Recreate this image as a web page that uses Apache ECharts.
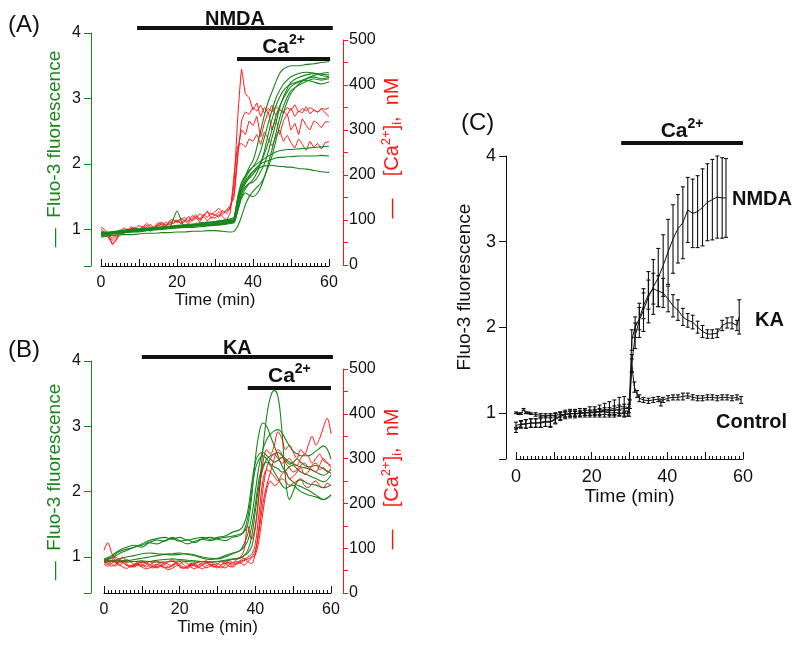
<!DOCTYPE html>
<html><head><meta charset="utf-8">
<script src="https://cdn.jsdelivr.net/npm/echarts@6/dist/echarts.min.js"></script>
<style>html,body{margin:0;padding:0;background:#fff}#c{width:800px;height:646px}</style>
</head><body><div id="c"></div>
<script>
// ---------------- DATA ----------------
// Panel A (NMDA): green Fluo-3 traces on a shared time grid
const tA_green = [0,2,4,6,8,10,12,14,16,18,20,22,24,26,28,30,32,34,35,36,37,38,39,40,41,42,43,44,45,46,47,48,49,50,52,54,56,58,60];
const A_g1 = [0.95,0.93,0.96,0.97,0.97,0.99,1.00,1.01,1.02,1.03,1.05,1.05,1.06,1.08,1.09,1.10,1.12,1.13, 1.16,1.50,1.72,1.82,1.95,2.05,2.25,2.50,2.75,2.95,3.10,3.25,3.38,3.45,3.48,3.50,3.50,3.52,3.53,3.55,3.56];
const A_g2 = [0.92,0.94,0.95,0.96,0.98,0.98,1.00,1.02,1.01,1.03,1.04,1.06,1.07,1.08,1.10,1.12,1.13,1.15, 1.18,1.45,1.65,1.78,1.88,1.96,2.05,2.20,2.40,2.62,2.82,3.00,3.12,3.22,3.28,3.33,3.38,3.40,3.39,3.37,3.36];
const A_g3 = [0.90,0.92,0.94,0.95,0.96,0.97,0.99,1.00,1.01,1.02,1.28,1.04,1.05,1.06,1.07,1.08,1.10,1.12, 1.12,1.30,1.50,1.62,1.70,1.76,1.86,2.00,2.20,2.45,2.68,2.88,3.02,3.12,3.18,3.22,3.26,3.30,3.33,3.30,3.32];
const A_g4 = [0.93,0.95,0.94,0.96,0.97,0.98,0.99,1.00,1.02,1.02,1.03,1.04,1.05,1.06,1.06,1.07,1.08,1.10, 1.10,1.28,1.48,1.56,1.52,1.50,1.54,1.64,1.80,2.00,2.22,2.46,2.70,2.88,3.02,3.12,3.20,3.26,3.30,3.28,3.30];
const A_g5 = [0.94,0.95,0.96,0.97,0.98,1.00,1.01,1.02,1.02,1.04,1.05,1.06,1.07,1.08,1.10,1.11,1.12,1.14, 1.14,1.40,1.62,1.72,1.78,1.84,1.92,2.02,2.15,2.32,2.52,2.72,2.88,3.00,3.10,3.18,3.25,3.28,3.25,3.22,3.25];
const A_g6 = [0.96,0.95,0.97,0.99,1.00,1.01,1.02,1.03,1.04,1.05,1.06,1.07,1.08,1.10,1.11,1.12,1.14,1.16, 1.18,1.48,1.70,1.82,1.90,1.95,2.00,2.04,2.08,2.12,2.15,2.18,2.20,2.21,2.22,2.22,2.23,2.24,2.25,2.26,2.27];
const A_g7 = [0.92,0.94,0.95,0.95,0.97,0.98,0.99,1.00,1.01,1.02,1.03,1.04,1.05,1.06,1.07,1.08,1.09,1.11, 1.12,1.38,1.58,1.70,1.80,1.88,1.95,2.00,2.03,2.05,2.07,2.09,2.10,2.10,2.11,2.11,2.12,2.12,2.12,2.13,2.12];
const A_g8 = [0.95,0.96,0.97,0.98,0.99,1.00,1.00,1.01,1.02,1.03,1.04,1.05,1.06,1.07,1.08,1.09,1.10,1.12, 1.14,1.42,1.62,1.74,1.82,1.88,1.92,1.95,1.97,1.97,1.98,1.97,1.96,1.96,1.95,1.95,1.93,1.92,1.90,1.88,1.87];
const A_g9 = [0.88,0.90,0.91,0.92,0.92,0.93,0.94,0.94,0.95,0.95,0.96,0.96,0.97,0.97,0.98,0.98,0.97,0.96, 0.97,1.05,1.20,1.38,1.50,1.58,1.64,1.70,1.80,1.95,2.12,2.35,2.58,2.78,2.95,3.08,3.22,3.30,3.35,3.38,3.40];
const A_g10 = [0.91,0.93,0.93,0.95,0.96,0.96,0.98,0.99,1.00,1.01,1.02,1.03,1.03,1.04,1.05,1.06,1.07,1.09, 1.10,1.32,1.55,1.65,1.70,1.72,1.78,1.88,2.00,2.18,2.40,2.62,2.85,3.02,3.15,3.25,3.32,3.36,3.38,3.35,3.33];

// Panel A: red [Ca2+]i traces (nM), one value per minute 0..60
const tA_red = [0,1,2,3,4,5,6,7,8,9,10,11,12,13,14,15,16,17,18,19,20,21,22,23,24,25,26,27,28,29,30,31,32,33,34,35,36,37,38,39,40,41,42,43,44,45,46,47,48,49,50,51,52,53,54,55,56,57,58,59,60];
const A_r1 = [80,72,60,48,58,75,82,78,85,80, 88,84,92,86,78,90,95,88,92,100, 96,104,98,92,100,108,102,112,106,115, 110,118,112,120,125,180,330,435,380,372, 345,360,330,350,338,355,332,345,340,335, 348,330,342,338,352,336,344,340,346,338,330];
const A_r2 = [85,78,70,45,55,68,74,80,76,82, 78,86,80,75,84,90,85,96,90,94, 100,92,96,108,98,104,96,110,118,104, 112,106,122,114,130,160,250,300,290,320, 310,330,285,315,340,300,325,290,320,335, 300,315,290,325,310,300,320,315,305,318,318];
const A_r3 = [75,70,62,55,64,72,70,76,82,78, 80,76,84,90,82,86,92,88,96,92, 98,94,100,96,104,112,100,108,98,106, 104,112,108,100,116,200,265,270,262,280, 275,290,268,295,280,265,285,300,275,288, 272,260,280,268,255,275,262,270,258,272,274];
const A_r4 = [70,74,66,60,70,78,74,72,80,84, 76,82,88,80,86,94,90,84,98,102, 94,100,106,98,110,104,114,108,120,112, 118,126,116,122,132,150,240,320,340,335, 350,342,355,338,348,340,352,345,338,350, 344,356,340,348,342,350,345,340,348,346,349];

// Panel B (KA): green traces
const tB_green = [0,2,4,6,8,10,12,14,16,18,20,22,24,26,28,30,32,34,36,37,38,39,40,41,42,43,44,45,46,47,48,49,50,51,52,54,56,58,60];
const B_g1 = [0.93,0.95,0.94,0.92,0.93,0.94,0.93,0.92,0.92,0.93,0.94,0.93,0.92,0.93,0.92,0.93,0.95,0.97, 0.99,1.02,1.06,1.15,1.45,2.00,2.65,3.15,3.45,3.55,3.45,2.95,2.20,1.88,2.00,2.15,2.18,2.12,2.10,2.06,2.10];
const B_g2 = [0.96,0.98,1.05,1.10,1.15,1.18,1.22,1.20,1.25,1.28,1.24,1.26,1.22,1.27,1.25,1.28,1.30,1.32, 1.35,1.38,1.50,1.90,2.50,2.90,3.05,3.00,2.85,2.70,2.55,2.40,2.30,2.20,2.15,2.10,2.08,2.02,1.95,1.88,1.95];
const B_g3 = [0.92,0.94,0.97,1.00,1.02,1.05,1.06,1.05,1.04,1.03,1.04,1.05,1.03,1.00,0.98,0.97,1.00,1.05, 1.10,1.20,1.35,1.60,2.00,2.40,2.65,2.80,2.88,2.93,2.95,2.90,2.80,2.70,2.62,2.58,2.55,2.55,2.62,2.70,2.50];
const B_g4 = [0.95,1.00,1.08,1.12,1.15,1.20,1.25,1.28,1.30,1.27,1.30,1.26,1.28,1.30,1.27,1.30,1.32,1.38, 1.42,1.50,1.70,2.10,2.45,2.58,2.60,2.55,2.50,2.45,2.48,2.52,2.50,2.45,2.42,2.40,2.38,2.35,2.30,2.25,2.35];
const B_g5 = [0.97,1.02,1.10,1.15,1.18,1.15,1.22,1.26,1.24,1.30,1.25,1.20,1.24,1.28,1.30,1.27,1.25,1.30, 1.33,1.40,1.60,2.00,2.35,2.50,2.55,2.50,2.42,2.38,2.35,2.30,2.32,2.38,2.40,2.35,2.30,2.25,2.20,2.15,2.25];
const B_g6 = [0.95,0.93,0.92,0.94,0.96,0.98,1.00,1.02,1.04,1.05,1.06,1.04,1.02,0.98,0.96,0.98,1.02,1.06, 1.10,1.15,1.25,1.45,1.80,2.20,2.40,2.45,2.40,2.30,2.20,2.10,2.05,2.08,2.10,2.05,2.00,1.95,1.92,1.88,1.95];
const B_g7 = [0.92,0.93,0.95,0.94,0.93,0.92,0.93,0.95,0.96,0.97,0.96,0.95,0.94,0.93,0.92,0.93,0.94,0.96, 0.98,1.02,1.10,1.30,1.70,2.10,2.35,2.50,2.55,2.58,2.60,2.55,2.48,2.42,2.45,2.50,2.45,2.38,2.40,2.35,2.28];

// Panel B: red traces (nM)
const tB_red = tA_red;
const B_r1 = [95,112,90,70,62,68,75,70,64,66, 60,62,70,65,58,62,68,64,60,66, 70,64,58,62,66,60,64,68,62,58, 64,70,66,72,68,74,80,95,150,120, 150,220,290,320,310,330,360,345,320,330, 315,300,320,310,330,350,330,345,370,390,355];
const B_r2 = [70,75,65,60,72,80,66,60,62,70, 66,58,62,68,72,64,58,56,62,68, 64,70,66,58,54,62,68,72,64,60, 58,62,70,66,60,68,72,78,70,66, 90,150,230,280,300,310,300,290,295,300, 290,285,300,310,305,290,300,310,295,290,285];
const B_r3 = [68,64,72,80,74,68,62,58,60,64, 62,68,64,60,56,60,64,70,74,68, 60,56,58,64,60,56,62,66,70,64, 66,60,56,62,68,64,70,74,80,86, 110,180,250,275,270,260,250,265,270,255, 260,270,280,265,270,285,290,275,280,270,275];
const B_r4 = [64,60,66,70,64,58,55,60,64,62, 58,54,56,60,64,60,56,52,55,60, 62,58,55,60,64,68,62,56,60,64, 60,56,62,68,64,70,66,72,76,80, 95,140,200,240,270,300,320,310,290,280, 270,275,285,290,280,275,270,285,300,290,280];
const B_r5 = [72,66,60,64,70,68,62,60,58,64, 70,66,60,56,62,68,64,58,62,66, 58,55,60,66,62,58,54,60,64,60, 56,62,66,60,58,64,68,62,70,78, 85,120,180,230,250,240,245,255,250,240, 245,250,255,240,235,245,250,240,235,245,240];

// Panel C: mean +/- error
const tNmda = [0,1.3,2.6,3.9,5.2,6.5,7.8,9.1,10.4,11.7,13,14.3,15.6,16.9,18.2,19.5,20.8,22.1,23.4,24.7,26,27.3,28.6,29.9, 30.6,31.5,32.6,33.7,35.0,36.3,37.6,38.9,40.2,41.5,42.8,44.1,45.4,46.7,48.0,49.3,50.6,51.9,53.2,54.5,55.5];
const nmdaMean = [0.80,0.86,0.87,0.88,0.88,0.89,0.90,0.90,0.93,0.96,0.98,0.99,0.99,1.00,1.00,1.01,1.01,1.02,1.03,1.04,1.05,1.07,1.07,1.06, 1.58,1.90,2.08,2.20,2.35,2.47,2.58,2.72,2.88,3.03,3.15,3.22,3.37,3.33,3.35,3.40,3.46,3.49,3.52,3.51,3.51];
const nmdaErr = [0.03,0.04,0.05,0.05,0.05,0.06,0.06,0.07,0.06,0.05,0.05,0.05,0.05,0.05,0.05,0.06,0.06,0.07,0.08,0.09,0.10,0.11,0.12,0.10, 0.10,0.15,0.20,0.25,0.30,0.32,0.34,0.36,0.38,0.40,0.40,0.42,0.38,0.40,0.42,0.45,0.45,0.47,0.48,0.47,0.46];
const tKa = [0,1.3,2.6,3.9,5.2,6.5,7.8,9.1,10.4,11.7,13,14.3,15.6,16.9,18.2,19.5,20.8,22.1,23.4,24.7,26,27.3,28.6,29.9, 30.6,31.5,32.6,33.7,35.0,36.3,37.6,38.9,40.2,41.5,42.8,44.1,45.4,46.7,48.0,49.3,50.6,51.9,53.2,54.5,55.8,57.1,58.4,59.0];
const kaMean = [0.85,0.87,0.87,0.88,0.88,0.88,0.89,0.89,0.92,0.96,0.98,0.99,0.99,0.99,1.00,1.00,1.01,1.01,1.02,1.02,1.03,1.04,1.05,1.05, 1.85,2.00,2.10,2.25,2.38,2.45,2.42,2.40,2.33,2.25,2.20,2.12,2.08,2.06,2.00,1.95,1.92,1.92,1.93,2.02,2.05,2.05,2.02,2.12];
const kaErr = [0.04,0.04,0.05,0.05,0.05,0.05,0.05,0.05,0.04,0.04,0.03,0.03,0.03,0.03,0.03,0.03,0.03,0.04,0.04,0.04,0.05,0.05,0.05,0.05, 0.12,0.12,0.13,0.15,0.17,0.18,0.18,0.17,0.15,0.13,0.12,0.10,0.08,0.08,0.07,0.07,0.05,0.05,0.05,0.06,0.06,0.07,0.06,0.20];
const tCtrl = [0,0.7,1.3,2,2.6,3.2,3.9,5.2,6.5,7.8, 9.1,10.4,11.7,13,14.3,15.6,16.9,18.2,19.5,20.8, 22.1,23.4,24.7,26,27.3,28.6,29.5,30.1,30.6,31.3, 32,32.6,33.7,35,36.3,37.6,38.3,38.9,40.2,41.5, 42.8,44.1,45.4,46.7,48,49.3,50.6,51.9,53.2,54.5, 55.8,57.1,58.4,59.5];
const ctrlMean = [1.00,0.99,0.99,1.04,1.00,1.00,0.99,0.98,0.97,0.97, 0.97,0.97,0.98,0.98,0.99,0.99,0.99,1.00,1.00,1.00, 1.01,1.01,1.00,1.00,1.00,0.99,0.99,1.10,1.55,1.30, 1.22,1.17,1.15,1.14,1.15,1.16,1.12,1.15,1.17,1.18, 1.18,1.19,1.20,1.18,1.17,1.17,1.18,1.18,1.17,1.18, 1.18,1.17,1.18,1.15];
const ctrlErr = [0.01,0.01,0.01,0.01,0.01,0.01,0.01,0.02,0.02,0.02, 0.02,0.03,0.03,0.03,0.03,0.03,0.03,0.03,0.03,0.03, 0.03,0.03,0.03,0.03,0.03,0.03,0.03,0.05,0.08,0.06, 0.04,0.04,0.03,0.03,0.03,0.03,0.04,0.03,0.03,0.03, 0.03,0.04,0.03,0.03,0.03,0.03,0.03,0.03,0.03,0.03, 0.03,0.03,0.03,0.04];

// Treatment bars (time ranges, min)
const nmdaBarA = [9.5, 61];
const caBarA = [35.8, 60.3];
const kaBarB = [10, 60.5];
const caBarB = [38, 60];
const caBarC = [27.8, 60];

// Tick values
const xTickLabels = [0, 20, 40, 60];
const fluoTicks = [1, 2, 3, 4];
const caTicks = [0, 100, 200, 300, 400, 500];

// ---------------- STYLE / LAYOUT ----------------
const FONT = '"Liberation Sans", Arial, Helvetica, sans-serif';
const GREEN = '#17861a';
const RED = '#ff1414';
const BLACK = '#111';

const chart = echarts.init(document.getElementById('c'), null, {renderer: 'canvas'});
const zip = (t, v) => t.map((x, i) => [x, v[i]]);

function timeAxis(grid, show, fs, nameGap) {
  return {
    type: 'value', gridIndex: grid, min: 0, max: 60, interval: 10, show: show,
    axisLine: {show: true, onZero: false, lineStyle: {color: BLACK, width: 1}},
    axisTick: {show: true, inside: true, length: 7, lineStyle: {color: BLACK, width: 1}},
    minorTick: {show: true, splitNumber: 10, length: 3, lineStyle: {color: BLACK, width: 1}},
    splitLine: {show: false}, minorSplitLine: {show: false},
    axisLabel: {formatter: v => xTickLabels.indexOf(v) >= 0 ? String(v) : '', margin: 9,
      fontSize: fs, color: BLACK, fontFamily: FONT},
    name: show ? 'Time (min)' : '', nameLocation: 'middle', nameGap: nameGap,
    nameTextStyle: {fontSize: fs + 1, color: BLACK, fontFamily: FONT}
  };
}
function fluoAxis(grid, min, color, fs, offset) {
  return {
    type: 'value', gridIndex: grid, position: 'left', offset: offset, min: min, max: 4,
    axisLine: {show: true, onZero: false, lineStyle: {color: color, width: 1}},
    axisTick: {show: true, length: 7, customValues: [min].concat(fluoTicks), lineStyle: {color: color}},
    axisLabel: {customValues: fluoTicks, margin: 10, fontSize: fs, color: BLACK, fontFamily: FONT},
    splitLine: {show: false}
  };
}
function caAxis(grid, offset) {
  return {
    type: 'value', gridIndex: grid, position: 'right', offset: offset, min: 0, max: 500, interval: 100,
    axisLine: {show: true, onZero: false, lineStyle: {color: RED, width: 1}},
    axisTick: {show: true, length: 5, lineStyle: {color: RED}},
    minorTick: {show: true, splitNumber: 2, length: 5, lineStyle: {color: RED}},
    axisLabel: {customValues: caTicks, margin: 6, fontSize: 16, color: BLACK, fontFamily: FONT},
    splitLine: {show: false}, minorSplitLine: {show: false}
  };
}
function lineS(xi, yi, t, v, color, smooth, w) {
  return {type: 'line', xAxisIndex: xi, yAxisIndex: yi, data: zip(t, v), showSymbol: false, symbol: 'none',
    smooth: smooth, lineStyle: {color: color, width: w || 1.1}, silent: true, animation: false};
}
function errS(t, m, e) {
  return {type: 'custom', xAxisIndex: 4, yAxisIndex: 4, silent: true, animation: false,
    data: t.map((x, i) => [x, m[i] - e[i], m[i] + e[i]]),
    encode: {x: 0, y: [1, 2]},
    renderItem: (params, api) => {
      const x = api.value(0);
      const lo = api.coord([x, api.value(1)]);
      const hi = api.coord([x, api.value(2)]);
      const w = 2;
      const st = {stroke: BLACK, lineWidth: 1.1};
      return {type: 'group', children: [
        {type: 'line', shape: {x1: lo[0], y1: lo[1], x2: hi[0], y2: hi[1]}, style: st},
        {type: 'line', shape: {x1: lo[0] - w, y1: lo[1], x2: lo[0] + w, y2: lo[1]}, style: st},
        {type: 'line', shape: {x1: hi[0] - w, y1: hi[1], x2: hi[0] + w, y2: hi[1]}, style: st}
      ]};
    }};
}

const series = [];
// Panel A: red under green
[A_r1, A_r2, A_r3, A_r4].forEach(v => series.push(lineS(1, 1, tA_red, v, RED, 0.1, 1)));
[A_g1, A_g2, A_g3, A_g4, A_g5, A_g6, A_g7, A_g8, A_g9, A_g10].forEach(v => series.push(lineS(0, 0, tA_green, v, GREEN, 0.2, 1.1)));
// Panel B
[B_g1, B_g2, B_g3, B_g4, B_g5, B_g6, B_g7].forEach(v => series.push(lineS(2, 2, tB_green, v, GREEN, 0.4, 1.1)));
[B_r1, B_r2, B_r3, B_r4, B_r5].forEach(v => series.push(lineS(3, 3, tB_red, v, RED, 0.35, 1)));
// Panel C
series.push(errS(tNmda, nmdaMean, nmdaErr));
series.push(errS(tKa, kaMean, kaErr));
series.push(errS(tCtrl, ctrlMean, ctrlErr));
series.push(lineS(4, 4, tNmda, nmdaMean, BLACK, false, 1));
series.push(lineS(4, 4, tKa, kaMean, BLACK, false, 1));
series.push(lineS(4, 4, tCtrl, ctrlMean, BLACK, false, 1));

const option = {
  animation: false,
  backgroundColor: '#fff',
  textStyle: {fontFamily: FONT},
  grid: [
    {left: 101, top: 33, width: 228, height: 233},
    {left: 101, top: 40, width: 228, height: 225},
    {left: 104, top: 361, width: 227, height: 232},
    {left: 104, top: 369, width: 227, height: 224},
    {left: 516, top: 156, width: 227, height: 303}
  ],
  xAxis: [timeAxis(0, true, 16, 24), timeAxis(1, false, 16, 24), timeAxis(2, true, 16, 24), timeAxis(3, false, 16, 24), timeAxis(4, true, 18, 28)],
  yAxis: [fluoAxis(0, 0.44, GREEN, 16, 10), caAxis(1, 14), fluoAxis(2, 0.448, GREEN, 16, 13), caAxis(3, 12), fluoAxis(4, 0.46, BLACK, 18, 10)],
  series: series
};
chart.setOption(option);

// ---------------- ANNOTATIONS ----------------
function px(xi, t) { return chart.convertToPixel({xAxisIndex: xi}, t); }
const g = [];
function bar(xi, range, y) {
  const x1 = px(xi, range[0]), x2 = px(xi, range[1]);
  g.push({type: 'rect', shape: {x: x1, y: y - 2, width: x2 - x1, height: 4}, style: {fill: BLACK}, silent: true});
  return (x1 + x2) / 2;
}
function boldText(x, y, txt, fs) {
  g.push({type: 'text', x: x, y: y, silent: true,
    style: {text: txt, font: 'bold ' + fs + 'px ' + FONT, fill: BLACK, align: 'center', verticalAlign: 'bottom'}});
}
function caText(x, y, fs) {
  g.push({type: 'text', x: x, y: y, silent: true,
    style: {text: '{a|Ca}{s|2+}', align: 'center', verticalAlign: 'bottom', fill: BLACK,
      rich: {a: {fontSize: fs, fontWeight: 'bold', fontFamily: FONT, fill: BLACK, lineHeight: fs + 4, verticalAlign: 'bottom'},
             s: {fontSize: Math.round(fs * 0.68), fontWeight: 'bold', fontFamily: FONT, fill: BLACK, verticalAlign: 'top', lineHeight: fs + 4}}}});
}
function plainText(x, y, txt, fs, align) {
  g.push({type: 'text', x: x, y: y, silent: true,
    style: {text: txt, font: fs + 'px ' + FONT, fill: BLACK, align: align || 'left', verticalAlign: 'middle'}});
}
function vText(x, y, txt, fs, color, rich) {
  g.push({type: 'text', x: x, y: y, rotation: Math.PI / 2, silent: true,
    style: {text: txt, font: fs + 'px ' + FONT, fill: color, align: 'center', verticalAlign: 'middle', rich: rich}});
}

// Panel A
let cx = bar(0, nmdaBarA, 28); boldText(cx, 29, 'NMDA', 20);
cx = bar(0, caBarA, 59); caText(cx, 58, 21);
// Panel B
cx = bar(2, kaBarB, 357); boldText(cx, 358, 'KA', 20);
cx = bar(2, caBarB, 388); caText(cx, 387, 21);
// Panel C
cx = bar(4, caBarC, 143); caText(cx, 142, 21);
plainText(8, 25, '(A)', 24);
plainText(8, 350, '(B)', 24);
plainText(461, 123, '(C)', 24);
g.push({type: 'text', x: 732, y: 199, silent: true, style: {text: 'NMDA', font: 'bold 20px ' + FONT, fill: BLACK, align: 'left', verticalAlign: 'middle'}});
g.push({type: 'text', x: 755, y: 320, silent: true, style: {text: 'KA', font: 'bold 20px ' + FONT, fill: BLACK, align: 'left', verticalAlign: 'middle'}});
g.push({type: 'text', x: 716, y: 422, silent: true, style: {text: 'Control', font: 'bold 20px ' + FONT, fill: BLACK, align: 'left', verticalAlign: 'middle'}});

const caRich = {
  s: {fontSize: 13, fontFamily: FONT, fill: RED, verticalAlign: 'top', lineHeight: 24},
  b: {fontSize: 13, fontFamily: FONT, fill: RED, verticalAlign: 'bottom', lineHeight: 24},
  n: {fontSize: 20, fontFamily: FONT, fill: RED, lineHeight: 24}
};
vText(55, 149, '—  Fluo-3 fluorescence', 19, GREEN);
vText(392, 148, '{n|—    [Ca}{s|2+}{n|]}{b|i}{n|,  nM}', 20, RED, caRich);
vText(55, 482, '—  Fluo-3 fluorescence', 19, GREEN);
vText(392, 479, '{n|—    [Ca}{s|2+}{n|]}{b|i}{n|,  nM}', 20, RED, caRich);
vText(465, 287, 'Fluo-3 fluorescence', 19, BLACK);

chart.setOption({graphic: g});
</script></body></html>
